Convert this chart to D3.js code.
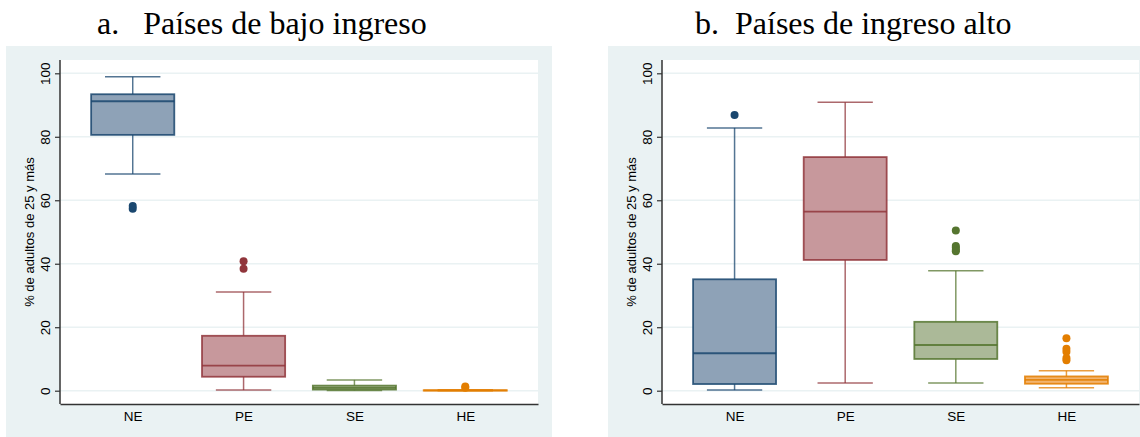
<!DOCTYPE html>
<html>
<head>
<meta charset="utf-8">
<script src="https://cdn.jsdelivr.net/npm/d3@7"></script>
<style>
  body { margin: 0; background: #fff; }
  svg text { font-family: Arial, "Liberation Sans", sans-serif; }
</style>
</head>
<body>
<svg id="chart" width="1140" height="437"></svg>
<script>
const categories = ["NE", "PE", "SE", "HE"];
const yTicks = [0, 20, 40, 60, 80, 100];

// a. low income
const lowWhiskLo = [68.3, 0.2, 0.1, 0.0];
const lowQ1 = [80.6, 4.4, 0.35, 0.02];
const lowMedian = [91.2, 7.9, 0.9, 0.08];
const lowQ3 = [93.4, 17.3, 1.6, 0.15];
const lowWhiskHi = [98.9, 31.1, 3.4, 0.3];
const lowOutliers = [[57.3, 58.2], [40.8, 38.4], [], [1.3, 0.9]];

// b. high income
const highWhiskLo = [0.2, 2.4, 2.4, 0.9];
const highQ1 = [2.1, 41.2, 10.0, 2.2];
const highMedian = [11.8, 56.4, 14.4, 3.4];
const highQ3 = [35.1, 73.6, 21.7, 4.5];
const highWhiskHi = [82.8, 90.9, 37.8, 6.3];
const highOutliers = [[86.9], [], [50.5, 45.6, 45.0, 44.3, 43.9], [16.5, 13.2, 12.3, 10.3, 9.6]];

const fills = ["#8ea2b7", "#c7989c", "#abb998", "#f2b46f"];
const strokes = ["#1a476f", "#90353b", "#55752f", "#e37e00"];

const svg = d3.select("#chart");

const panels = [
  { title: "a.   Países de bajo ingreso", titleX: 97, bg: [6, 552], plot: [60, 538],
    lo: lowWhiskLo, q1: lowQ1, med: lowMedian, q3: lowQ3, hi: lowWhiskHi, out: lowOutliers },
  { title: "b.  Países de ingreso alto", titleX: 695, bg: [608, 1140], plot: [662, 1139],
    lo: highWhiskLo, q1: highQ1, med: highMedian, q3: highQ3, hi: highWhiskHi, out: highOutliers }
];

const plotTop = 60, plotBottom = 404;
const y = d3.scaleLinear().domain([0, 100]).range([390.7, 73.3]);

panels.forEach(p => {
  const g = svg.append("g");

  g.append("rect")
    .attr("x", p.bg[0]).attr("y", 46)
    .attr("width", p.bg[1] - p.bg[0]).attr("height", 437 - 46)
    .attr("fill", "#eaf2f3");

  g.append("rect")
    .attr("x", p.plot[0]).attr("y", plotTop)
    .attr("width", p.plot[1] - p.plot[0]).attr("height", plotBottom - plotTop)
    .attr("fill", "#fff");

  g.append("text")
    .attr("x", p.titleX).attr("y", 34)
    .style("font-family", "'Liberation Serif', 'Times New Roman', serif")
    .style("font-size", "32px")
    .style("white-space", "pre")
    .attr("fill", "#000")
    .text(p.title);

  const x = d3.scalePoint().domain(categories).range(p.plot).padding(0.656);
  const step = x.step();
  const boxW = step * 0.75, capW = step * 0.5;

  // gridlines
  g.selectAll(".grid").data(yTicks).enter().append("line")
    .attr("x1", p.plot[0]).attr("x2", p.plot[1])
    .attr("y1", d => y(d)).attr("y2", d => y(d))
    .attr("stroke", "#eaf2f3").attr("stroke-width", 1.5);

  // y axis
  const yAxis = g.append("g")
    .attr("transform", `translate(${p.plot[0]},0)`)
    .call(d3.axisLeft(y).tickValues(yTicks).tickSize(5).tickPadding(0).tickFormat(d3.format("d")));
  yAxis.select(".domain").remove();
  yAxis.selectAll(".tick line").attr("stroke", "#333").attr("stroke-width", 1.2);
  yAxis.selectAll(".tick text")
    .attr("x", null).attr("dy", null)
    .attr("transform", "translate(-15,0) rotate(-90)")
    .attr("text-anchor", "middle")
    .attr("dominant-baseline", "central")
    .style("font-size", "13.5px")
    .attr("fill", "#000");

  g.append("line")
    .attr("x1", p.plot[0]).attr("x2", p.plot[0])
    .attr("y1", plotTop).attr("y2", plotBottom)
    .attr("stroke", "#333").attr("stroke-width", 1.5);

  // x axis
  const xAxis = g.append("g")
    .attr("transform", `translate(0,${plotBottom})`)
    .call(d3.axisBottom(x).tickSize(0).tickPadding(7));
  xAxis.select(".domain").attr("stroke", "#333").attr("stroke-width", 1.5);
  xAxis.selectAll(".tick text")
    .style("font-size", "13.5px")
    .attr("fill", "#000");

  g.append("text")
    .attr("transform", `translate(${p.plot[0] - 31},${(plotTop + plotBottom) / 2}) rotate(-90)`)
    .attr("text-anchor", "middle")
    .attr("dominant-baseline", "central")
    .style("font-size", "13px")
    .attr("fill", "#000")
    .text("% de adultos de 25 y más");

  categories.forEach((c, i) => {
    const cx = x(c);
    const bg = g.append("g");
    // whiskers
    [[p.q3[i], p.hi[i]], [p.q1[i], p.lo[i]]].forEach(([a, b]) => {
      bg.append("line")
        .attr("x1", cx).attr("x2", cx)
        .attr("y1", y(a)).attr("y2", y(b))
        .attr("stroke", strokes[i]).attr("stroke-opacity", 0.75).attr("stroke-width", 1.5);
      bg.append("line")
        .attr("x1", cx - capW / 2).attr("x2", cx + capW / 2)
        .attr("y1", y(b)).attr("y2", y(b))
        .attr("stroke", strokes[i]).attr("stroke-opacity", 0.75).attr("stroke-width", 1.5);
    });
    // box
    bg.append("rect")
      .attr("x", cx - boxW / 2).attr("width", boxW)
      .attr("y", y(p.q3[i])).attr("height", Math.max(0.01, y(p.q1[i]) - y(p.q3[i])))
      .attr("fill", fills[i]).attr("stroke", strokes[i]).attr("stroke-opacity", 0.85).attr("stroke-width", 1.8);
    bg.append("line")
      .attr("x1", cx - boxW / 2).attr("x2", cx + boxW / 2)
      .attr("y1", y(p.med[i])).attr("y2", y(p.med[i]))
      .attr("stroke", strokes[i]).attr("stroke-opacity", 0.85).attr("stroke-width", 1.8);
    // outliers
    bg.selectAll(".out").data(p.out[i]).enter().append("circle")
      .attr("cx", cx).attr("cy", d => y(d)).attr("r", 4)
      .attr("fill", strokes[i]);
  });
});
</script>
</body>
</html>
